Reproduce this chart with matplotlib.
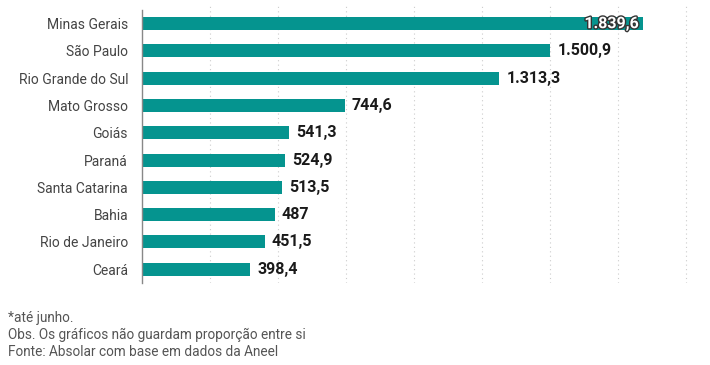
import matplotlib
matplotlib.use("Agg")
import matplotlib.pyplot as plt
import matplotlib.patheffects as pe

estados = ["Minas Gerais", "São Paulo", "Rio Grande do Sul", "Mato Grosso", "Goiás",
           "Paraná", "Santa Catarina", "Bahia", "Rio de Janeiro", "Ceará"]
valores = [1839.6, 1500.9, 1313.3, 744.6, 541.3, 524.9, 513.5, 487, 451.5, 398.4]
rotulos = ["1.839,6", "1.500,9", "1.313,3", "744,6", "541,3", "524,9", "513,5", "487", "451,5", "398,4"]
grade = [250, 500, 750, 1000, 1250, 1500, 1750, 2000]
notas = ["*até junho.",
         "Obs. Os gráficos não guardam proporção entre si",
         "Fonte: Absolar com base em dados da Aneel"]

plt.rcParams['font.family'] = ['Roboto', 'DejaVu Sans']

fig = plt.figure(figsize=(7.1, 3.65), dpi=100)
ax = fig.add_axes([0.2, 0.225, 0.782, 0.761])

cor = '#05948f'
pos = list(range(len(estados)))
ax.barh(pos, valores, height=0.48, color=cor, zorder=2)

# linhas de grade pontilhadas
for x in grade:
    ax.axvline(x, color='#cccccc', linestyle=(0, (1, 3)), linewidth=0.8, zorder=1)

# rótulos de valor
for i, (v, r) in enumerate(zip(valores, rotulos)):
    if i == 0:
        t = ax.annotate(r, (v, i), xytext=(-3, 0), textcoords='offset points',
                        ha='right', va='center', fontsize=11.5, fontweight='bold',
                        color='white', zorder=3)
        t.set_path_effects([pe.withStroke(linewidth=2, foreground='#333333')])
    else:
        ax.annotate(r, (v, i), xytext=(5, 0), textcoords='offset points',
                    ha='left', va='center', fontsize=11.5, fontweight='bold',
                    color='#1a1a1a', zorder=3)

ax.set_xlim(0, 2040)
ax.set_ylim(9.50, -0.68)
ax.set_yticks(pos)
ax.set_yticklabels(estados, fontsize=10, color='#444444')
ax.set_xticks([])
ax.tick_params(axis='y', length=0, pad=10)
for s in ['top', 'right', 'bottom']:
    ax.spines[s].set_visible(False)
ax.spines['left'].set_color('#888888')
ax.spines['left'].set_linewidth(1)
ax.spines['left'].set_bounds(9.50, -0.5)

for k, n in enumerate(notas):
    fig.text(8 / 710, 1 - (318 + k * 17) / 365, n, fontsize=9.8, color='#555555',
             ha='left', va='center')

fig.savefig('out.png', dpi=100)
